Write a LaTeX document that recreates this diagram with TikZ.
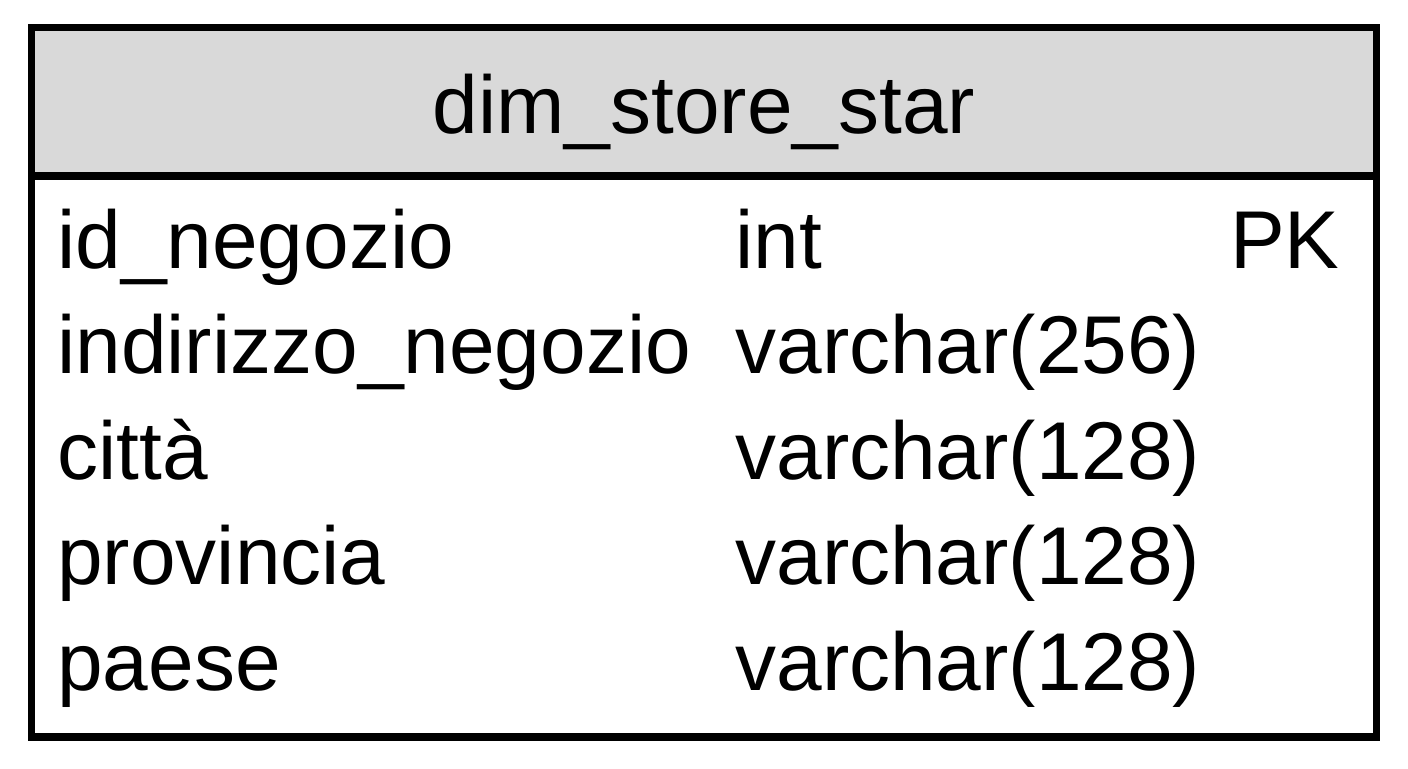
\documentclass[tikz,border=0pt]{standalone}
\usepackage{xcolor}
\usepackage{fontspec}
\setmainfont{Liberation Sans}

\begin{document}
\begin{tikzpicture}[x=0.5pt,y=0.5pt,
  cell/.style={inner sep=0,anchor=base west,font=\fontsize{41}{48}\selectfont},
  frame/.style={draw=black,line width=3.75pt}]
\definecolor{headgray}{HTML}{D9D9D9}
\useasboundingbox (0,0) rectangle (1408,768);
\fill[headgray] (31.5,740.5) rectangle (1376.5,592);
\draw[frame] (31.5,740.5) rectangle (1376.5,31);
\draw[frame] (31.5,592) -- (1376.5,592);
\node [cell,anchor=base] (title) at (704,635) {dim\_store\_star};
  \foreach \fld/\typ/\i in {id\_negozio/int/0,indirizzo\_negozio/{varchar(256)}/1,città/{varchar(128)}/2,provincia/{varchar(128)}/3,paese/{varchar(128)}/4}
  {  \node [cell] (name\i) at (57,500-105.5*\i) {\fld};
     \node [cell] (type\i) at (735,500-105.5*\i) {\typ};}
\node [cell,anchor=base east] (pk) at (1340,500) {PK};
\end{tikzpicture}
\end{document}
